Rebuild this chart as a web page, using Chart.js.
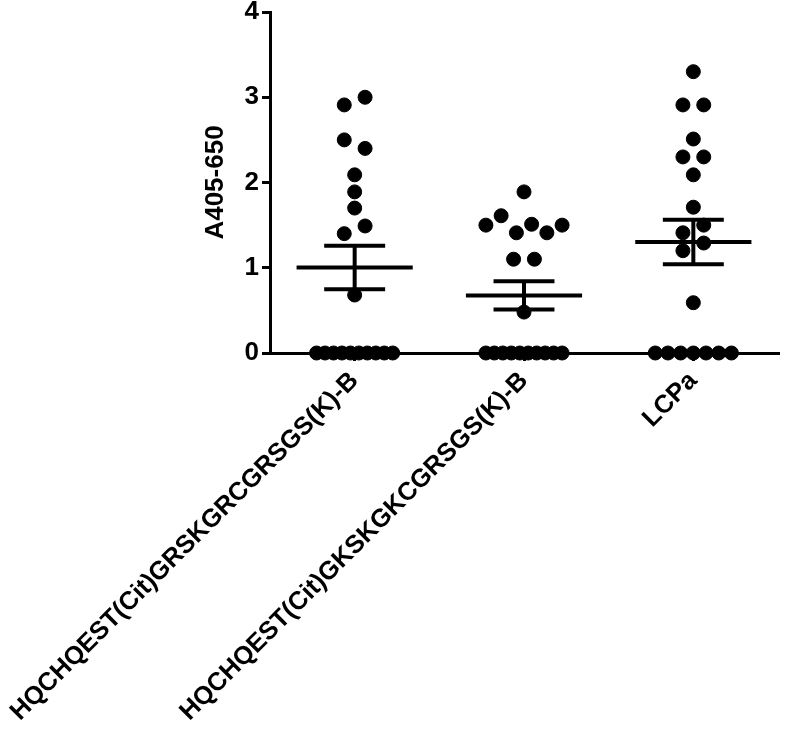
<!DOCTYPE html>
<html>
<head>
<meta charset="utf-8">
<script src="https://cdn.jsdelivr.net/npm/chart.js@4.4.1/dist/chart.umd.min.js"></script>
<style>
  html, body { margin: 0; padding: 0; background: #fff; }
</style>
</head>
<body>
<canvas id="chart" width="786" height="733"></canvas>
<script>
// groups on the x axis
const groups = ["HQCHQEST(Cit)GRSKGRCGRSGS(K)-B", "HQCHQEST(Cit)GKSKGKCGRSGS(K)-B", "LCPa"];

// A405-650 readings, one array per group (order inside a row = left to right)
const valuesGRSK = [2.91, 3.0, 2.5, 2.4, 2.09, 1.89, 1.7, 1.4, 1.49, 0.68, 0, 0, 0, 0, 0, 0, 0, 0, 0, 0];
const valuesGKSK = [1.89, 1.5, 1.61, 1.41, 1.51, 1.41, 1.5, 1.1, 1.1, 0.48, 0, 0, 0, 0, 0, 0, 0, 0, 0, 0];
const valuesLCPa = [3.3, 2.91, 2.91, 2.51, 2.3, 2.3, 2.09, 1.71, 1.41, 1.5, 1.2, 1.29, 0.59, 0, 0, 0, 0, 0, 0, 0];

const yTicks = [0, 1, 2, 3, 4];

const allValues = [valuesGRSK, valuesGKSK, valuesLCPa];
const FONT = "'Liberation Sans', Arial, sans-serif";

// mean and standard error of each group
const mean = arr => arr.reduce((a, b) => a + b, 0) / arr.length;
const sem = arr => {
    const m = mean(arr);
    const v = arr.reduce((a, b) => a + (b - m) * (b - m), 0) / (arr.length - 1);
    return Math.sqrt(v / arr.length);
};

// simple scatter layout: close values share a row and are spread sideways
const rowGap = 0.117;   // y units
const dotStep = 0.123;  // x units
const maxRow = 0.45;    // x units

const spreadGroup = (vals, center) => {
    const idx = vals.map((v, i) => i).sort((a, b) => vals[b] - vals[a] || a - b);
    const rows = [];
    let row = [];
    idx.forEach((i, k) => {
        if (k > 0 && vals[idx[k - 1]] - vals[i] >= rowGap) {
            rows.push(row);
            row = [];
        }
        row.push(i);
    });
    rows.push(row);
    const pts = [];
    rows.forEach(r => {
        r.sort((a, b) => a - b);
        const n = r.length;
        const step = n > 1 ? Math.min(dotStep, maxRow / (n - 1)) : 0;
        r.forEach((i, j) => {
            pts.push({x: center + (j - (n - 1) / 2) * step, y: vals[i]});
        });
    });
    return pts;
};

const datasets = [];
const barStyle = {
    type: "scatter",
    showLine: true,
    borderColor: "#000",
    borderWidth: 4,
    borderCapStyle: "butt",
    pointRadius: 0,
    pointHoverRadius: 0,
    fill: false
};

allValues.forEach((vals, g) => {
    const c = g + 1;
    const m = mean(vals);
    const s = sem(vals);
    datasets.push({...barStyle, data: [{x: c - 0.343, y: m}, {x: c + 0.343, y: m}]});
    datasets.push({...barStyle, data: [{x: c - 0.18, y: m + s}, {x: c + 0.18, y: m + s}]});
    datasets.push({...barStyle, data: [{x: c - 0.18, y: m - s}, {x: c + 0.18, y: m - s}]});
    datasets.push({...barStyle, data: [{x: c, y: m + s}, {x: c, y: m - s}]});
    datasets.push({
        type: "scatter",
        data: spreadGroup(vals, c),
        backgroundColor: "#000",
        borderColor: "#000",
        pointRadius: 7,
        pointHoverRadius: 7,
        clip: false
    });
});

const axisLine = {display: true, color: "#000", width: 3};
const tickGrid = {display: true, drawOnChartArea: false, drawTicks: true, tickLength: 8, color: "#000", lineWidth: 3};

new Chart(document.getElementById("chart"), {
    type: "scatter",
    data: {datasets},
    options: {
        responsive: false,
        animation: false,
        events: [],
        layout: {padding: {left: 196, top: 12, right: 3, bottom: 0}},
        plugins: {legend: {display: false}, tooltip: {enabled: false}},
        scales: {
            x: {
                type: "linear",
                min: 0.5,
                max: 3.5,
                border: axisLine,
                grid: tickGrid,
                afterBuildTicks: scale => {
                    scale.ticks = groups.map((g, i) => ({value: i + 1}));
                },
                afterFit: scale => {
                    scale.height = 380;
                    scale.paddingLeft = 0;
                    scale.paddingRight = 0;
                },
                ticks: {
                    autoSkip: false,
                    minRotation: 45,
                    maxRotation: 45,
                    padding: 5,
                    color: "#000",
                    font: {family: FONT, size: 25.5, weight: "bold"},
                    callback: v => groups[v - 1]
                }
            },
            y: {
                min: 0,
                max: 4,
                border: axisLine,
                grid: tickGrid,
                afterBuildTicks: scale => {
                    scale.ticks = yTicks.map(v => ({value: v}));
                },
                afterFit: scale => {
                    scale.width = 74;
                    scale.paddingTop = 0;
                    scale.paddingBottom = 0;
                },
                ticks: {
                    padding: 3,
                    color: "#000",
                    font: {family: FONT, size: 26, weight: "bold"}
                },
                title: {
                    display: true,
                    text: "A405-650",
                    color: "#000",
                    font: {family: FONT, size: 26, weight: "bold"}
                }
            }
        }
    }
});
</script>
</body>
</html>
